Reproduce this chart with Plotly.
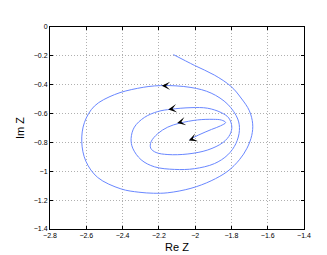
import plotly.graph_objects as go

re_vals = [-2.120, -2.004, -1.894, -1.802, -1.747, -1.701, -1.683, -1.688, -1.714, -1.756,
           -1.820, -1.912, -2.023, -2.151, -2.230,
           -2.310, -2.409, -2.537, -2.602, -2.625, -2.610, -2.555, -2.445, -2.317, -2.190,
           -2.023, -1.912, -1.820, -1.765, -1.756, -1.775, -1.820, -1.894, -2.004, -2.114,
           -2.224, -2.298, -2.344, -2.353, -2.335, -2.280, -2.206, -2.133,
           -2.023, -1.931, -1.857, -1.815, -1.798, -1.808, -1.846, -1.930, -2.040, -2.150,
           -2.215, -2.245, -2.243, -2.206, -2.151, -2.087,
           -1.986, -1.900, -1.855, -1.832, -1.860, -1.910, -1.980, -2.030]
im_vals = [-0.191, -0.266, -0.333, -0.412, -0.492, -0.581, -0.671, -0.751, -0.840, -0.920,
           -0.999, -1.066, -1.118, -1.149, -1.152,
           -1.145, -1.122, -1.043, -0.931, -0.796, -0.661, -0.548, -0.469, -0.425, -0.406,
           -0.419, -0.458, -0.536, -0.638, -0.717, -0.807, -0.886, -0.947, -0.982, -0.987,
           -0.969, -0.920, -0.840, -0.773, -0.694, -0.627, -0.586, -0.570,
           -0.559, -0.563, -0.593, -0.630, -0.690, -0.745, -0.800, -0.852, -0.880, -0.884,
           -0.870, -0.840, -0.796, -0.739, -0.694, -0.667,
           -0.644, -0.640, -0.645, -0.662, -0.685, -0.710, -0.748, -0.779]

arrow_re = [-2.184, -2.148, -2.099, -2.035]
arrow_im = [-0.408, -0.571, -0.666, -0.786]
arrow_dx = [5, 5, 5, 4.7]
arrow_dy = [0, -0.7, -1.2, -1.8]

x_ticks = [-2.8, -2.6, -2.4, -2.2, -2.0, -1.8, -1.6, -1.4]
x_labels = ["\u22122.8", "\u22122.6", "\u22122.4", "\u22122.2", "\u22122", "\u22121.8", "\u22121.6", "\u22121.4"]
y_ticks = [0, -0.2, -0.4, -0.6, -0.8, -1.0, -1.2, -1.4]
y_labels = ["0", "\u22120.2", "\u22120.4", "\u22120.6", "\u22120.8", "\u22121", "\u22121.2", "\u22121.4"]

fig = go.Figure()
fig.add_trace(go.Scatter(x=re_vals, y=im_vals, mode="lines",
                         line=dict(color="rgb(105,135,255)", width=1, shape="spline", smoothing=1.0),
                         hoverinfo="skip", showlegend=False))

for xa, ya, dx, dy in zip(arrow_re, arrow_im, arrow_dx, arrow_dy):
    fig.add_annotation(x=xa, y=ya, ax=dx, ay=dy, xref="x", yref="y", axref="pixel", ayref="pixel",
                       text="", showarrow=True, arrowhead=3, arrowsize=1.4, arrowwidth=1.0,
                       arrowcolor="black", standoff=0)

font = dict(family="Liberation Sans, Arial, sans-serif", color="black")
axis_common = dict(showline=True, linecolor="black", linewidth=1, mirror="ticks",
                   ticks="inside", ticklen=3, tickcolor="black",
                   showgrid=True, gridcolor="#b0b0b0", griddash="1px,2px", gridwidth=1,
                   zeroline=False, tickfont=dict(size=7, **font))

fig.update_xaxes(range=[-2.8, -1.4], tickvals=x_ticks, ticktext=x_labels,
                 title=dict(text="Re Z", font=dict(size=11, **font), standoff=4), **axis_common)
fig.update_yaxes(range=[-1.4, 0], tickvals=y_ticks, ticktext=y_labels,
                 title=dict(text="Im Z", font=dict(size=11, **font), standoff=6), **axis_common)

fig.update_layout(width=327, height=255, margin=dict(l=42, r=31, t=19, b=29, pad=0),
                  plot_bgcolor="white", paper_bgcolor="white", font=font)

fig.write_html("out.html")
